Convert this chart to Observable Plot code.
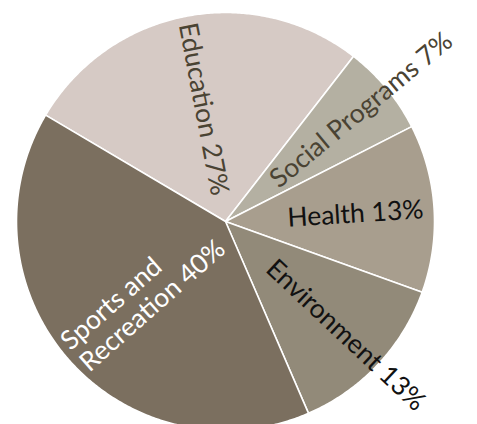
<!DOCTYPE html>
<html>
<head>
<meta charset="utf-8">
<script src="https://cdn.jsdelivr.net/npm/d3@7"></script>
<script src="https://cdn.jsdelivr.net/npm/@observablehq/plot@0.6"></script>
<style>
  html, body { margin: 0; padding: 0; background: #ffffff; }
</style>
</head>
<body>
<div id="chart"></div>
<script>
const categories = ["Education", "Social Programs", "Health", "Environment", "Sports and Recreation"];
const values = [27, 7, 13, 13, 40];
const labels = ["Education 27%", "Social Programs 7%", "Health 13%", "Environment 13%", "Sports and\nRecreation 40%"];
const sliceColors = ["#d6cac5", "#b4b0a2", "#a89e8e", "#928a79", "#7b6f5f"];
const labelColors = ["#4a4333", "#4a4333", "#111111", "#111111", "#ffffff"];

const W = 477, H = 424;
const cx = 225, cy = 221, R = 209;
const startAngle = -59.4 * Math.PI / 180;

const arcs = d3.pie().sort(null).startAngle(startAngle).endAngle(startAngle + 2 * Math.PI)(values);

const slices = arcs.map((a, i) => {
  const pts = [{x: 0, y: 0}];
  const n = Math.max(2, Math.ceil((a.endAngle - a.startAngle) / (Math.PI / 360)));
  for (let k = 0; k <= n; k++) {
    const t = a.startAngle + (a.endAngle - a.startAngle) * k / n;
    pts.push({x: Math.sin(t), y: Math.cos(t)});
  }
  pts.push({x: 0, y: 0});
  return {category: categories[i], color: sliceColors[i], points: pts};
});

const labelData = arcs.map((a, i) => {
  const m = (a.startAngle + a.endAngle) / 2;
  const mm = ((m % (2 * Math.PI)) + 2 * Math.PI) % (2 * Math.PI);
  const right = mm < Math.PI;
  const r0 = right ? 62 / R : 202 / R;
  const deg = mm * 180 / Math.PI;
  return {
    label: labels[i],
    x: r0 * Math.sin(mm),
    y: r0 * Math.cos(mm),
    rotate: right ? deg - 90 : deg - 270,
    color: labelColors[i]
  };
});

const chart = Plot.plot({
  width: W,
  height: H,
  margin: 0,
  x: {domain: [-1, 1], range: [cx - R, cx + R], axis: null},
  y: {domain: [-1, 1], range: [cy + R, cy - R], axis: null},
  color: {type: "identity"},
  style: {background: "#ffffff", fontFamily: "Lato, sans-serif", overflow: "visible"},
  marks: [
    ...slices.map(s => Plot.line(s.points, {
      x: "x", y: "y", fill: s.color, stroke: "#ffffff", strokeWidth: 1.6, curve: "linear"
    })),
    Plot.text(labelData, {
      x: "x", y: "y", text: "label", rotate: "rotate", fill: "color",
      textAnchor: "start", lineAnchor: "middle", lineHeight: 1.08,
      fontSize: 26.5, fontFamily: "Lato, sans-serif"
    })
  ]
});
document.getElementById("chart").appendChild(chart);
</script>
</body>
</html>
